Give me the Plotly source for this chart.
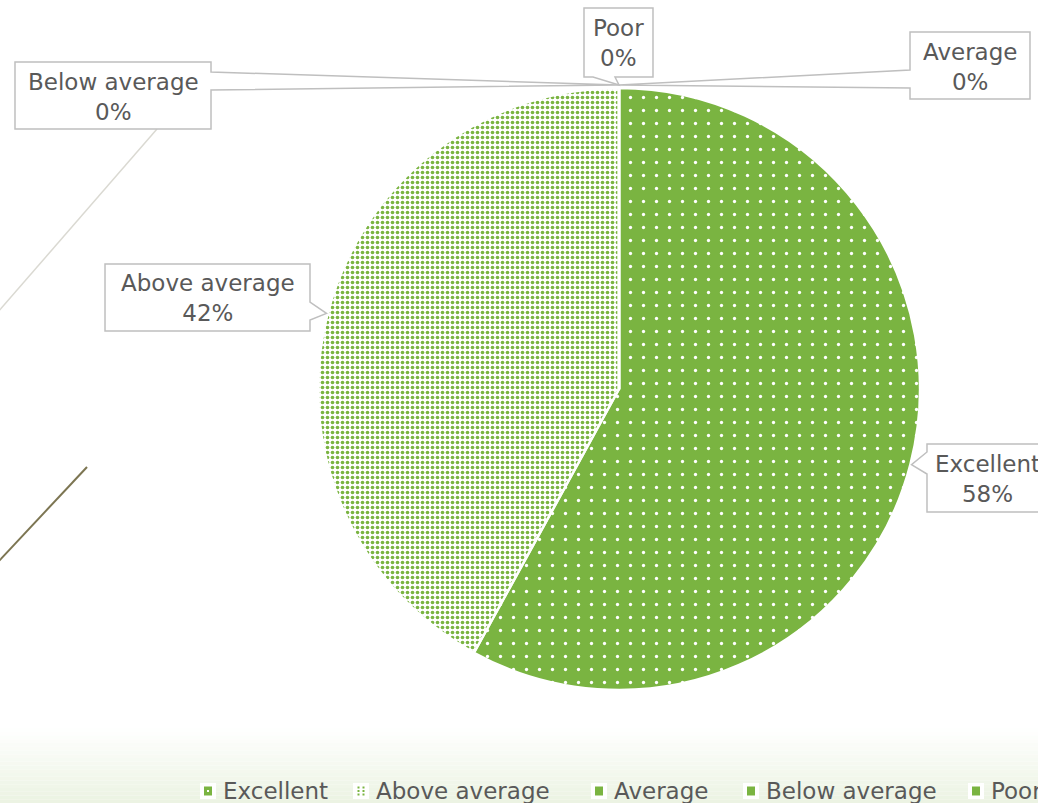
import plotly.graph_objects as go
import math

# ---------------- data ----------------
categories = ["Excellent", "Above average", "Average", "Below average", "Poor"]
values = [58, 42, 0, 0, 0]
pct_labels = ["58%", "42%", "0%", "0%", "0%"]

# ---------------- style ----------------
W, H = 1038, 803
GREEN = "#7AB441"
TEXT = "#595959"
BORDER = "#BFBFBF"
FONT = "DejaVu Sans"
FS = 23

CX, CY, R = 619, 389, 301  # pie centre / radius in pixels

# callout boxes: (left, top, right, bottom) and wedge (side, base_a, base_b)
callouts = {
    "Excellent":     dict(box=(927, 444, 1048, 512), side="left",   base=(452, 474)),
    "Above average": dict(box=(105, 264, 310, 331), side="right",  base=(302, 320)),
    "Average":       dict(box=(910, 32, 1030, 99),  side="left",   base=(70, 88)),
    "Below average": dict(box=(15, 62, 211, 129),   side="right",  base=(72, 90)),
    "Poor":          dict(box=(584, 8, 653, 77),    side="bottom", base=(593, 615)),
}

legend_square_left = [200, 353, 591, 743, 968]
legend_cy = 791


def px(x):
    return x / W


def py(y):
    return 1 - y / H


def callout_path(box, side, base, tip):
    l, t, r, b = box
    tx, ty = tip
    pts = []
    if side == "left":
        pts = [(l, t), (r, t), (r, b), (l, b), (l, base[1]), (tx, ty), (l, base[0])]
    elif side == "right":
        pts = [(l, t), (r, t), (r, base[0]), (tx, ty), (r, base[1]), (r, b), (l, b)]
    elif side == "bottom":
        pts = [(l, t), (r, t), (r, b), (base[1], b), (tx, ty), (base[0], b), (l, b)]
    d = "M " + " L ".join(f"{px(x):.5f},{py(y):.5f}" for x, y in pts) + " Z"
    return d


fig = go.Figure()

fig.add_trace(go.Pie(
    labels=categories,
    values=values,
    sort=False,
    direction="clockwise",
    rotation=0,
    textinfo="none",
    hoverinfo="label+percent",
    showlegend=False,
    domain=dict(x=[px(CX - R), px(CX + R)], y=[py(CY + R), py(CY - R)]),
    marker=dict(
        colors=[GREEN, GREEN, GREEN, GREEN, GREEN],
        line=dict(color="white", width=2.5),
        pattern=dict(
            shape=[".", ".", "", "", ""],
            fgcolor=["white", GREEN, GREEN, GREEN, GREEN],
            bgcolor=[GREEN, "white", GREEN, GREEN, GREEN],
            size=[13, 5, 8, 8, 8],
            solidity=[0.05, 0.42, 0.2, 0.2, 0.2],
            fillmode="replace",
        ),
    ),
))

shapes = []
annotations = []

# bottom gradient band
g_top, g_bot = 728, 803
n = 20
c0 = (255, 255, 255)
c1 = (235, 243, 226)
for i in range(n):
    y0 = g_top + (g_bot - g_top) * i / n
    y1 = g_top + (g_bot - g_top) * (i + 1) / n
    f = (i + 0.5) / n
    col = tuple(round(c0[k] + (c1[k] - c0[k]) * f) for k in range(3))
    shapes.append(dict(type="rect", xref="paper", yref="paper", layer="below",
                       x0=0, x1=1, y0=py(y1), y1=py(y0),
                       fillcolor=f"rgb{col}", line=dict(width=0)))

# decorative background lines
shapes.append(dict(type="line", xref="paper", yref="paper", layer="below",
                   x0=px(157), y0=py(129), x1=px(-2), y1=py(312),
                   line=dict(color="#DAD9D2", width=1.5)))
shapes.append(dict(type="line", xref="paper", yref="paper", layer="below",
                   x0=px(87), y0=py(467), x1=px(-2), y1=py(562),
                   line=dict(color="#7C7552", width=2)))

# callouts computed from slice angles
total = sum(values)
cum = 0
for cat, v, lab in zip(categories, values, pct_labels):
    mid = (cum + v / 2) / total * 2 * math.pi
    cum += v
    tip = (CX + (R + 1) * math.sin(mid), CY - (R + 3) * math.cos(mid))
    c = callouts[cat]
    shapes.append(dict(type="path", xref="paper", yref="paper", layer="above",
                       path=callout_path(c["box"], c["side"], c["base"], tip),
                       fillcolor="white", line=dict(color=BORDER, width=1.5)))
    l, t, r, b = c["box"]
    annotations.append(dict(xref="paper", yref="paper",
                            x=px((l + r) / 2), y=py((t + b) / 2 + 1),
                            xanchor="center", yanchor="middle",
                            text=f"{cat}<br>{lab}", showarrow=False, align="center",
                            font=dict(family=FONT, size=FS, color=TEXT)))

# custom legend
for i, (cat, sl) in enumerate(zip(categories, legend_square_left)):
    s = 16
    shapes.append(dict(type="rect", xref="paper", yref="paper",
                       x0=px(sl), x1=px(sl + s), y0=py(legend_cy + s / 2), y1=py(legend_cy - s / 2),
                       fillcolor="white", line=dict(width=0)))
    cxm = sl + s / 2
    if i == 1:
        for dx in (-2.5, 2.5):
            for dy in (-3.5, 0, 3.5):
                shapes.append(dict(type="rect", xref="paper", yref="paper",
                                   x0=px(cxm + dx - 1), x1=px(cxm + dx + 1),
                                   y0=py(legend_cy + dy + 1), y1=py(legend_cy + dy - 1),
                                   fillcolor=GREEN, line=dict(width=0)))
    else:
        shapes.append(dict(type="rect", xref="paper", yref="paper",
                           x0=px(cxm - 4), x1=px(cxm + 4),
                           y0=py(legend_cy + 4.5), y1=py(legend_cy - 4.5),
                           fillcolor=GREEN, line=dict(width=0)))
        if i == 0:
            shapes.append(dict(type="rect", xref="paper", yref="paper",
                               x0=px(cxm - 1), x1=px(cxm + 1),
                               y0=py(legend_cy + 1), y1=py(legend_cy - 1),
                               fillcolor="white", line=dict(width=0)))
    annotations.append(dict(xref="paper", yref="paper",
                            x=px(sl + 21), y=py(legend_cy),
                            xanchor="left", yanchor="middle",
                            text=cat, showarrow=False,
                            font=dict(family=FONT, size=FS, color=TEXT)))

fig.update_layout(
    width=W, height=H,
    margin=dict(l=0, r=0, t=0, b=0),
    paper_bgcolor="white",
    plot_bgcolor="white",
    shapes=shapes,
    annotations=annotations,
    showlegend=False,
)

fig.write_html("out.html", config={"displayModeBar": False},
               post_script="document.body.style.margin='0';document.body.style.overflow='hidden';")
